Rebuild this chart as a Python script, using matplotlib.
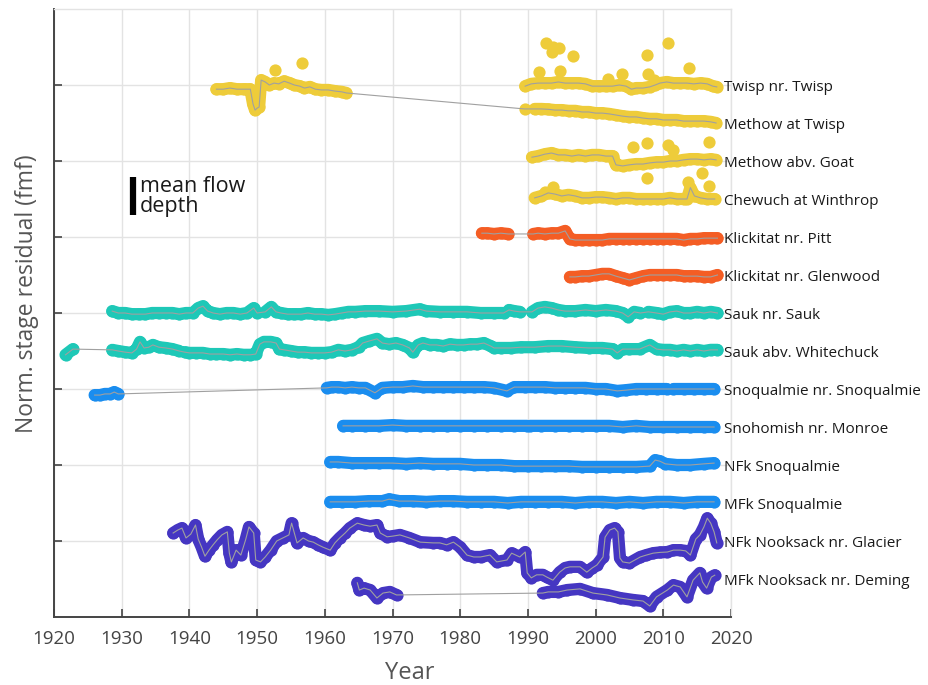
import numpy as np
import matplotlib
matplotlib.use("Agg")
import matplotlib.pyplot as plt

plt.rcParams['font.family'] = ['Open Sans', 'DejaVu Sans']

NAN = np.nan

# ---------------- data (relative residual in mean-flow-depth units) ----------------
station_names = [
    "MFk Nooksack nr. Deming", "NFk Nooksack nr. Glacier", "MFk Snoqualmie",
    "NFk Snoqualmie", "Snohomish nr. Monroe", "Snoqualmie nr. Snoqualmie",
    "Sauk abv. Whitechuck", "Sauk nr. Sauk", "Klickitat nr. Glenwood",
    "Klickitat nr. Pitt", "Chewuch at Winthrop", "Methow abv. Goat",
    "Methow at Twisp", "Twisp nr. Twisp",
]
station_groups = ["purple", "purple", "blue", "blue", "blue", "blue", "teal", "teal",
                  "orange", "orange", "yellow", "yellow", "yellow", "yellow"]
group_colors = {"purple": "#4536C2", "blue": "#1A8DEF", "teal": "#1EC8B7",
                "orange": "#F45D24", "yellow": "#EECC3A"}

mfk_nooksack_years = [1964.8, 1965.1, 1965.8, 1966.7, 1967.7, 1968.6, 1969.6, 1970.6, 1981.0,
                      1992.2, 1993.0, 1994.5, 1995.8, 1997.7, 1999.6, 2001.7, 2003.6, 2005.5,
                      2007.0, 2008.0, 2009.0, 2010.6, 2011.5, 2012.5, 2013.5, 2014.4, 2015.4,
                      2015.8, 2016.4, 2017.1, 2017.6]
mfk_nooksack_vals = [-0.10, -0.29, -0.24, -0.29, -0.50, -0.37, -0.34, -0.42, NAN,
                     -0.37, -0.34, -0.34, -0.29, -0.26, -0.37, -0.42, -0.50, -0.55,
                     -0.58, -0.71, -0.47, -0.29, -0.16, -0.21, -0.47, -0.03, 0.16,
                     -0.08, -0.24, 0.05, 0.10]

nfk_nooksack_years = [1937.6, 1938.3, 1938.9, 1939.5, 1940.2, 1940.9, 1941.3, 1941.8, 1942.3,
                      1942.9, 1943.5, 1944.1, 1944.8, 1945.6, 1945.9, 1946.2, 1946.9, 1947.6,
                      1948.3, 1948.8, 1949.5, 1949.8, 1950.5, 1951.2, 1952.0, 1952.9, 1953.8,
                      1954.7, 1955.1, 1955.5, 1955.9, 1956.8, 1957.6, 1958.3, 1959.0, 1959.7,
                      1960.8, 1961.5, 1962.2, 1963.0, 1963.7, 1964.8, 1965.8, 1966.7, 1967.7,
                      1968.2, 1969.2, 1970.1, 1971.1, 1972.5, 1974.1, 1976.0, 1977.0, 1978.0,
                      1979.0, 1980.0, 1981.0, 1982.0, 1983.0, 1984.4, 1985.4, 1986.9, 1987.6,
                      1988.8, 1989.6, 1989.9, 1990.5, 1991.3, 1992.2, 1992.8, 1993.7, 1994.7,
                      1995.5, 1996.2, 1997.7, 1998.7, 1999.5, 2000.2, 2001.1, 2001.4, 2002.1,
                      2002.8, 2003.3, 2003.6, 2004.0, 2005.0, 2006.6, 2007.5, 2008.5, 2009.5,
                      2010.6, 2011.5, 2012.5, 2013.3, 2014.0, 2014.8, 2015.4, 2016.0, 2016.5,
                      2017.0, 2017.5, 2017.9]
nfk_nooksack_vals = [0.21, 0.29, 0.34, 0.08, 0.18, 0.42, 0.05, -0.16, -0.40,
                     -0.24, -0.10, 0.03, 0.16, 0.24, -0.32, -0.55, -0.24, -0.37,
                     0.03, 0.37, 0.21, -0.50, -0.55, -0.42, -0.24, 0.00, 0.08,
                     0.16, 0.47, 0.21, -0.05, 0.08, 0.00, -0.03, -0.10, -0.16,
                     -0.24, -0.05, 0.08, 0.21, 0.34, 0.47, 0.42, 0.39, 0.42,
                     0.21, 0.11, 0.13, 0.16, 0.08, -0.03, -0.05, -0.05, -0.10,
                     -0.03, -0.16, -0.37, -0.42, -0.42, -0.37, -0.55, -0.50, -0.32,
                     -0.42, -0.29, -0.84, -0.97, -0.89, -0.89, -0.95, -1.03, -0.82,
                     -0.71, -0.68, -0.68, -0.82, -0.71, -0.63, -0.42, 0.10, 0.29,
                     0.34, 0.24, -0.45, -0.55, -0.58, -0.42, -0.37, -0.32, -0.30,
                     -0.29, -0.24, -0.24, -0.26, -0.37, 0.05, 0.16, 0.37, 0.60,
                     0.47, 0.24, -0.05]

mfk_snoq_years = [1960.8, 1962.5, 1964.5, 1966.5, 1968.5, 1969.5, 1971.0, 1973.0, 1975.0,
                  1977.0, 1979.0, 1981.0, 1983.0, 1985.0, 1987.0, 1989.0, 1991.0, 1993.0,
                  1995.0, 1997.0, 1999.0, 2001.0, 2003.0, 2005.0, 2007.0, 2009.0, 2011.0,
                  2013.0, 2015.0, 2017.5]
mfk_snoq_vals = [0.03, 0.03, 0.03, 0.05, 0.05, 0.10, 0.05, 0.05, 0.03,
                 0.05, 0.05, 0.03, 0.03, 0.03, 0.00, 0.03, 0.03, 0.03,
                 0.03, 0.00, 0.03, 0.03, 0.00, 0.03, 0.00, 0.03, 0.03,
                 0.00, 0.03, 0.03]

nfk_snoq_years = [1960.8, 1962.0, 1964.0, 1966.0, 1968.0, 1970.0, 1972.0, 1974.0, 1976.0,
                  1978.0, 1980.0, 1982.0, 1984.0, 1986.0, 1988.0, 1990.0, 1992.0, 1994.0,
                  1996.0, 1998.0, 2000.0, 2002.0, 2004.0, 2006.0, 2008.0, 2008.8, 2009.5,
                  2010.3, 2012.0, 2014.0, 2016.0, 2017.5]
nfk_snoq_vals = [0.08, 0.08, 0.05, 0.05, 0.05, 0.05, 0.03, 0.05, 0.03,
                 0.03, 0.03, 0.00, 0.00, 0.00, -0.03, -0.03, -0.03, -0.03,
                 -0.03, -0.05, -0.05, -0.05, -0.05, -0.05, -0.03, 0.13, 0.10,
                 0.03, 0.00, 0.00, 0.03, 0.05]

snohomish_years = [1962.7, 1964.0, 1966.0, 1968.0, 1970.0, 1972.0, 1974.0, 1976.0, 1978.0,
                   1980.0, 1982.0, 1984.0, 1986.0, 1988.0, 1989.9, 1990.1, 1990.3, 1992.0,
                   1994.0, 1996.0, 1998.0, 2000.0, 2002.0, 2004.0, 2006.0, 2008.0, 2010.0,
                   2012.0, 2014.0, 2016.0, 2017.5]
snohomish_vals = [0.03, 0.03, 0.03, 0.03, 0.05, 0.03, 0.03, 0.03, 0.03,
                  0.03, 0.03, 0.03, 0.03, 0.03, 0.03, NAN, 0.03, 0.03,
                  0.03, 0.03, 0.03, 0.03, 0.03, 0.00, 0.03, 0.00, 0.00,
                  0.00, 0.00, 0.00, 0.00]

snoq_years = [1926.0, 1926.8, 1927.5, 1928.3, 1928.9, 1929.5, 1945.0,
              1960.3, 1961.0, 1962.0, 1963.0, 1964.0, 1965.0, 1966.0, 1967.4, 1968.5,
              1970.0, 1971.5, 1973.0, 1974.5, 1976.0, 1977.5, 1979.0, 1980.5, 1982.0,
              1983.5, 1985.0, 1986.9, 1988.0, 1989.5, 1991.0, 1992.5, 1994.0, 1995.5,
              1997.0, 1998.5, 2000.0, 2001.5, 2003.2, 2004.5, 2006.0, 2007.5, 2009.0,
              2010.5, 2011.0, 2011.5, 2013.0, 2014.5, 2016.0, 2017.5]
snoq_vals = [-0.16, -0.16, -0.13, -0.13, -0.08, -0.13, NAN,
             0.03, 0.05, 0.05, 0.03, 0.05, 0.03, 0.03, -0.10, 0.03,
             0.05, 0.05, 0.08, 0.05, 0.05, 0.05, 0.05, 0.05, 0.05,
             0.05, 0.03, -0.05, 0.05, 0.05, 0.05, 0.05, 0.03, 0.03,
             0.03, 0.03, 0.00, 0.00, -0.05, -0.03, 0.00, 0.00, 0.00,
             0.00, NAN, 0.00, 0.00, 0.00, 0.00, 0.00]

sauk_abv_years = [1921.7, 1922.8, 1925.0, 1928.6, 1929.5, 1930.5, 1931.5, 1932.2, 1932.7,
                  1933.3, 1934.0, 1934.6, 1935.5, 1936.5, 1937.5, 1938.5, 1938.9, 1939.3,
                  1940.0, 1941.0, 1942.0, 1943.0, 1944.0, 1945.0, 1946.0, 1947.0, 1948.0,
                  1949.0, 1949.8, 1950.4, 1951.0, 1952.0, 1952.8, 1953.3, 1954.0, 1955.0,
                  1956.0, 1957.0, 1958.0, 1959.0, 1960.0, 1961.0, 1962.0, 1963.0, 1964.0,
                  1965.0, 1965.6, 1966.5, 1967.7, 1968.5, 1969.5, 1970.5, 1971.5, 1972.5,
                  1973.0, 1973.8, 1974.5, 1975.5, 1976.5, 1977.5, 1978.5, 1979.5, 1980.5,
                  1981.5, 1982.5, 1983.5, 1984.5, 1985.0, 1986.0, 1987.5, 1989.0, 1991.0,
                  1993.0, 1995.0, 1997.0, 1999.0, 2001.0, 2002.5, 2003.2, 2004.0, 2005.0,
                  2006.5, 2008.0, 2009.0, 2010.0, 2011.0, 2012.0, 2013.0, 2014.0, 2015.0,
                  2016.0, 2017.0, 2018.0]
sauk_abv_vals = [-0.10, 0.05, NAN, 0.03, 0.00, -0.03, -0.05, 0.05, 0.24,
                 0.08, 0.10, 0.16, 0.10, 0.08, 0.05, 0.00, NAN, -0.03,
                 -0.05, -0.05, -0.05, -0.08, -0.08, -0.08, -0.10, -0.08, -0.10,
                 -0.10, -0.08, 0.18, 0.24, 0.24, 0.21, 0.05, 0.03, 0.00,
                 -0.03, -0.03, -0.05, -0.05, -0.05, -0.03, 0.03, 0.00, 0.03,
                 0.10, 0.21, 0.26, 0.32, 0.21, 0.18, 0.21, 0.16, 0.08,
                 -0.03, 0.16, 0.21, 0.16, 0.16, 0.13, 0.18, 0.16, 0.16,
                 0.18, 0.18, 0.21, 0.13, 0.08, 0.08, 0.08, 0.10, 0.10,
                 0.13, 0.13, 0.10, 0.08, 0.08, 0.05, -0.05, 0.05, 0.05,
                 0.05, 0.16, 0.05, 0.03, 0.03, 0.00, 0.03, 0.00, 0.03,
                 0.00, 0.03, 0.03]

sauk_years = [1928.6, 1929.5, 1930.5, 1931.5, 1932.5, 1933.5, 1934.5, 1935.5, 1936.5,
              1937.5, 1938.5, 1939.5, 1940.5, 1941.3, 1942.0, 1942.7, 1943.5, 1944.5,
              1945.5, 1946.5, 1947.5, 1948.5, 1949.5, 1950.0, 1950.6, 1951.2, 1952.1,
              1952.8, 1953.5, 1954.5, 1955.5, 1956.5, 1957.5, 1958.5, 1959.5, 1960.5,
              1961.5, 1962.5, 1963.5, 1964.5, 1966.0, 1968.0, 1970.0, 1972.0, 1974.0,
              1975.0, 1977.0, 1979.0, 1981.0, 1983.0, 1985.0, 1986.4, 1986.8, 1987.2,
              1988.0, 1988.8, 1989.7, 1990.6, 1991.5, 1992.5, 1993.5, 1994.5, 1995.5,
              1997.0, 1998.5, 2000.0, 2001.5, 2003.0, 2004.0, 2004.8, 2005.7, 2006.6,
              2007.2, 2007.8, 2009.0, 2010.0, 2011.0, 2012.0, 2013.0, 2014.0, 2015.0,
              2016.0, 2017.0, 2018.0]
sauk_vals = [0.05, 0.00, 0.00, -0.03, -0.03, -0.03, 0.00, 0.00, 0.00,
             0.00, -0.03, 0.00, 0.00, 0.13, 0.18, 0.05, 0.00, -0.03,
             0.00, 0.00, -0.03, 0.00, 0.13, 0.00, NAN, 0.03, 0.16,
             0.03, 0.00, -0.03, -0.03, -0.03, 0.00, -0.03, -0.03, -0.05,
             -0.03, 0.00, 0.03, 0.03, 0.05, 0.05, 0.03, 0.05, 0.10,
             0.05, 0.03, 0.03, 0.03, 0.00, 0.00, 0.00, NAN, 0.08,
             0.05, 0.03, NAN, 0.03, 0.13, 0.16, 0.13, 0.08, 0.05,
             0.05, 0.08, 0.05, 0.08, 0.05, 0.00, -0.10, 0.03, 0.00,
             NAN, 0.03, 0.00, -0.03, 0.03, 0.05, 0.00, 0.00, 0.03,
             0.00, 0.03, 0.00]

glenwood_years = [1996.2, 1997, 1998, 1999, 2000, 2001, 2002, 2003, 2004, 2005, 2006, 2007,
                  2008, 2009, 2010, 2011, 2012, 2013, 2014, 2015, 2016, 2017, 2018]
glenwood_vals = [-0.05, -0.05, -0.03, -0.03, 0.00, 0.03, 0.03, -0.03, -0.08, -0.13, -0.08,
                 -0.03, 0.00, 0.00, 0.00, 0.00, 0.00, -0.03, -0.03, -0.03, -0.05, -0.05, 0.00]

pitt_years = [1983.2, 1984, 1985, 1986, 1987.1, 1989.0, 1990.8, 1991.5, 1992.5, 1993.5,
              1994.5, 1995.5, 1996.2, 1997, 1998, 1999, 2000, 2001, 2002, 2003, 2004, 2005,
              2006, 2007, 2008, 2009, 2010, 2011, 2012, 2013, 2014, 2015, 2016, 2017, 2018]
pitt_vals = [0.10, 0.10, 0.08, 0.10, 0.08, NAN, 0.08, 0.10, 0.08, 0.10,
             0.10, 0.16, -0.05, -0.08, -0.08, -0.08, -0.08, -0.08, -0.05, -0.05, -0.05, -0.05,
             -0.05, -0.05, -0.05, -0.05, -0.05, -0.05, -0.05, -0.08, -0.05, -0.05, -0.03,
             -0.03, -0.03]

chewuch_years = [1991, 1992, 1993, 1994, 1995, 1996, 1997, 1998, 1999, 2000, 2001, 2002,
                 2003, 2004, 2005, 2006, 2007, 2008, 2009, 2010, 2011, 2012, 2013, 2013.5,
                 2014.0, 2014.6, 2015.5, 2016.5, 2017.6]
chewuch_vals = [0.03, 0.08, 0.16, 0.13, 0.08, 0.11, 0.08, 0.03, 0.03, 0.05, 0.05, 0.03,
                0.00, 0.03, 0.03, 0.00, 0.00, 0.00, 0.00, 0.00, 0.03, 0.00, 0.00, 0.00,
                0.30, 0.08, 0.03, 0.00, 0.00]
chewuch_out_years = [1992.5, 1993.7, 2007.6, 2013.65, 2015.7, 2016.75]
chewuch_out_vals = [0.18, 0.32, 0.55, 0.45, 0.68, 0.34]

goat_years = [1990.6, 1991.5, 1992.5, 1993.5, 1994.5, 1995.5, 1996.5, 1997.5, 1998.5,
              1999.5, 2000.5, 2001.5, 2002.5, 2003.0, 2004, 2005, 2006, 2007, 2008, 2009,
              2010, 2011, 2012, 2013, 2014, 2015, 2016, 2017, 2017.8]
goat_vals = [0.10, 0.13, 0.18, 0.21, 0.16, 0.16, 0.13, 0.16, 0.13,
             0.16, 0.16, 0.13, 0.13, -0.10, -0.13, -0.10, -0.08, -0.08, -0.05, -0.03,
             -0.03, 0.00, 0.00, 0.03, 0.05, 0.05, 0.03, 0.05, 0.03]
goat_out_years = [2005.5, 2007.6, 2010.7, 2011.4, 2016.75]
goat_out_vals = [0.37, 0.47, 0.42, 0.29, 0.50]

methow_years = [1944.0, 1945.0, 1946.0, 1947.0, 1948.0, 1949.0, 1949.4, 1949.7, 1950.0,
                1950.3, 1950.6, 1951.2, 1951.8, 1952.5, 1953.2, 1954.0, 1954.8, 1955.5,
                1956.3, 1957.0, 1957.8, 1958.6, 1959.5, 1960.5, 1961.5, 1962.5, 1963.2,
                1975.0, 1989.5, 1990.2, 1991.0, 1992.0, 1993.0, 1994.0, 1995.0, 1996.0,
                1997.0, 1998.0, 1999.0, 2000.0, 2001.0, 2002.0, 2003.0, 2004.0, 2005.0,
                2006.0, 2007.0, 2008.0, 2009.0, 2010.0, 2011.0, 2012.0, 2013.0, 2014.0,
                2015.0, 2016.0, 2017.0, 2017.8]
methow_vals = [0.89, 0.89, 0.92, 0.89, 0.89, 0.89, 0.50, 0.34, 0.39,
               0.42, 1.13, 1.08, 1.00, 1.05, 1.03, 1.10, 1.05, 1.00,
               0.97, 0.92, 0.95, 0.89, 0.87, 0.87, 0.84, 0.82, 0.79,
               NAN, 0.37, NAN, 0.37, 0.37, 0.36, 0.34, 0.34, 0.32,
               0.32, 0.29, 0.29, 0.26, 0.26, 0.24, 0.21, 0.18, 0.16,
               0.16, 0.13, 0.11, 0.11, 0.08, 0.08, 0.08, 0.05, 0.05,
               0.05, 0.05, 0.03, 0.00]
methow_out_years = [1952.6, 1956.6]
methow_out_vals = [1.39, 1.58]

twisp_years = [1989.6, 1990.5, 1991.5, 1992.5, 1993.5, 1994.5, 1995.5, 1996.5, 1997.5,
               1998.5, 1999.5, 2000.5, 2001.5, 2002.5, 2003.5, 2004.5, 2005.3, 2006.0,
               2007.0, 2008.0, 2008.8, 2009.5, 2010.5, 2011.5, 2012.5, 2013.5, 2014.5,
               2015.5, 2016.5, 2017.3, 2017.9]
twisp_vals = [-0.03, 0.03, 0.05, 0.05, 0.05, 0.08, 0.05, 0.05, 0.05,
              0.03, -0.03, -0.03, -0.03, -0.03, 0.00, -0.03, -0.11, -0.08,
              -0.08, -0.05, 0.00, 0.05, 0.08, 0.05, 0.05, 0.05, 0.03,
              0.05, 0.03, -0.03, -0.05]
twisp_out_years = [1992.67, 1993.71, 1993.56, 1994.59, 1996.66, 1991.64, 1994.74, 2001.83,
                   2003.9, 2007.59, 2007.74, 2010.69, 2013.8, 2008.7]
twisp_out_vals = [1.11, 1.00, 0.87, 0.97, 0.76, 0.34, 0.37, 0.16,
                  0.29, 0.79, 0.29, 1.11, 0.45, 0.13]

series_years = [mfk_nooksack_years, nfk_nooksack_years, mfk_snoq_years, nfk_snoq_years,
                snohomish_years, snoq_years, sauk_abv_years, sauk_years, glenwood_years,
                pitt_years, chewuch_years, goat_years, methow_years, twisp_years]
series_vals = [mfk_nooksack_vals, nfk_nooksack_vals, mfk_snoq_vals, nfk_snoq_vals,
               snohomish_vals, snoq_vals, sauk_abv_vals, sauk_vals, glenwood_vals,
               pitt_vals, chewuch_vals, goat_vals, methow_vals, twisp_vals]
outliers = {10: (chewuch_out_years, chewuch_out_vals),
            11: (goat_out_years, goat_out_vals),
            12: (methow_out_years, methow_out_vals),
            13: (twisp_out_years, twisp_out_vals)}

x_ticks = [1920, 1930, 1940, 1950, 1960, 1970, 1980, 1990, 2000, 2010, 2020]

# ---------------- figure ----------------
fig = plt.figure(figsize=(9.29, 6.85), dpi=100)
ax = fig.add_axes([54 / 929, 1 - 617 / 685, (731 - 54) / 929, (617 - 9) / 685])

ms = 8.8
for i, (yrs, vals) in enumerate(zip(series_years, series_vals)):
    color = group_colors[station_groups[i]]
    yrs = np.asarray(yrs, float)
    v = np.asarray(vals, float) + i
    ax.plot(yrs, v, '-', color=color, lw=ms, solid_capstyle='round',
            solid_joinstyle='round', zorder=2)
    ax.plot(yrs, v, 'o', color=color, ms=ms, mec='none', zorder=2)
    if i in outliers:
        oy, ov = outliers[i]
        ax.plot(oy, np.asarray(ov) + i, 'o', color=color, ms=ms, mec='none', zorder=2)
    ok = np.isfinite(v)
    ax.plot(yrs[ok], v[ok], '-', color='#a0a0a0', lw=0.8, zorder=3)
    ax.text(2018.9, i - 0.07, station_names[i], ha='left', va='center',
            fontsize=11, color='#1a1a1a', clip_on=False, zorder=4)

# scale bar
ax.plot([1931.6, 1931.6], [9.58, 10.58], color='black', lw=4.5, solid_capstyle='butt')
ax.text(1932.7, 10.06, "mean flow\ndepth", ha='left', va='center', fontsize=15.5,
        color='#1a1a1a', linespacing=0.95)

ax.set_xlim(1920, 2020)
ax.set_ylim(-1, 15)
ax.set_xticks(x_ticks)
ax.set_yticks([1, 3, 5, 7, 9, 11, 13])
ax.set_yticklabels([])
ax.grid(True, color='#e3e3e3', lw=1.0)
ax.set_axisbelow(True)
for s in ['left', 'bottom']:
    ax.spines[s].set_color('#444444')
    ax.spines[s].set_linewidth(1.4)
for s in ['top', 'right']:
    ax.spines[s].set_color('#e3e3e3')
    ax.spines[s].set_linewidth(1.0)
ax.tick_params(direction='in', length=6, width=1.2, color='#444444',
               labelsize=13.5, labelcolor='#444444', pad=9)
ax.set_xlabel("Year", fontsize=17, color='#555555')
ax.set_ylabel("Norm. stage residual (fmf)", fontsize=16.5, color='#555555')
ax.xaxis.set_label_coords((410 - 54) / 677, -(661 - 617) / 608)
ax.yaxis.set_label_coords((39 - 54) / 677, (617 - 294) / 608)

fig.savefig("out.png", dpi=100)
